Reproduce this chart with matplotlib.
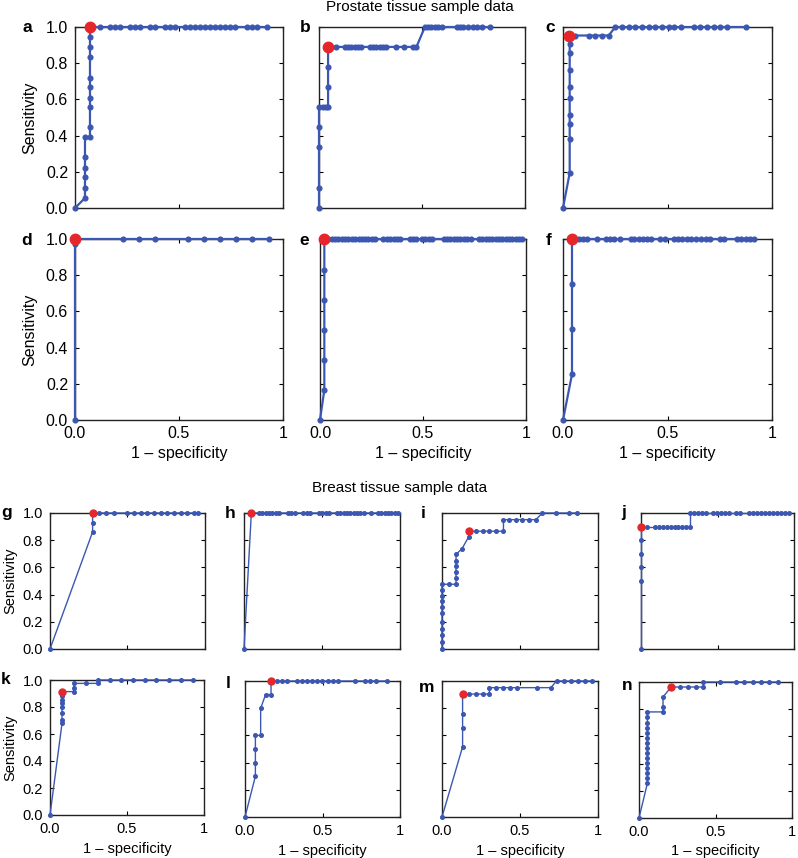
import matplotlib
matplotlib.use("Agg")
import matplotlib.pyplot as plt

plt.rcParams["font.family"] = ["Liberation Sans", "DejaVu Sans"]

BLUE = "#3b57b2"
RED = "#e5262b"

# ROC curves: (1 - specificity, sensitivity)
fpr_a = [0, 0.048, 0.048, 0.048, 0.048, 0.048, 0.048, 0.072, 0.072, 0.072, 0.072, 0.072, 0.072, 0.072,
         0.072, 0.072, 0.072, 0.12, 0.168, 0.192, 0.216, 0.264, 0.288, 0.312, 0.361, 0.385, 0.433, 0.457,
         0.481, 0.529, 0.553, 0.577, 0.601, 0.625, 0.649, 0.673, 0.697, 0.721, 0.745, 0.769, 0.825, 0.849,
         0.873, 0.921]
tpr_a = [0, 0.055, 0.11, 0.17, 0.22, 0.28, 0.39, 0.39, 0.445, 0.557, 0.61, 0.667, 0.72, 0.836,
         0.89, 0.947, 1.0] + [1.0] * 27
best_a = (0.07, 1.0)

fpr_b = [0, 0, 0, 0, 0, 0.02, 0.032, 0.044, 0.044, 0.044, 0.044, 0.084, 0.125, 0.141, 0.157, 0.173,
         0.19, 0.206, 0.246, 0.263, 0.279, 0.295, 0.311, 0.327, 0.373, 0.412, 0.454, 0.473, 0.514, 0.53,
         0.546, 0.562, 0.579, 0.595, 0.668, 0.684, 0.7, 0.724, 0.749, 0.765, 0.789, 0.83]
tpr_b = [0, 0.11, 0.336, 0.447, 0.557, 0.557, 0.557, 0.557, 0.667, 0.78, 0.89] + [0.89] * 17 + [1.0] * 14
best_b = (0.044, 0.89)

fpr_c = [0, 0.032, 0.032, 0.032, 0.032, 0.032, 0.032, 0.032, 0.032, 0.032, 0.032, 0.059, 0.123, 0.155,
         0.187, 0.219, 0.25, 0.282, 0.314, 0.346, 0.378, 0.41, 0.442, 0.474, 0.506, 0.533, 0.565, 0.625,
         0.657, 0.689, 0.721, 0.753, 0.785, 0.877]
tpr_c = [0, 0.193, 0.38, 0.466, 0.515, 0.61, 0.666, 0.76, 0.857, 0.904, 0.953, 0.953, 0.953, 0.953,
         0.953, 0.953] + [1.0] * 18
best_c = (0.03, 0.953)

fpr_d = [0, 0, 0, 0.232, 0.306, 0.386, 0.543, 0.618, 0.695, 0.773, 0.853, 0.932]
tpr_d = [0, 0.975, 1.0, 1.0, 1.0, 1.0, 1.0, 1.0, 1.0, 1.0, 1.0, 1.0]
best_d = (0.0, 1.0)

fpr_e = [0, 0.021, 0.021, 0.021, 0.021, 0.021, 0.021, 0.041, 0.057, 0.073, 0.089, 0.106, 0.122, 0.138,
         0.154, 0.17, 0.187, 0.203, 0.219, 0.235, 0.252, 0.268, 0.308, 0.325, 0.341, 0.357, 0.373, 0.39,
         0.435, 0.451, 0.468, 0.495, 0.511, 0.528, 0.544, 0.601, 0.617, 0.633, 0.649, 0.666, 0.682, 0.698,
         0.714, 0.731, 0.771, 0.787, 0.804, 0.82, 0.836, 0.852, 0.869, 0.885, 0.901, 0.917, 0.933, 0.95,
         0.966, 0.982]
tpr_e = [0, 0.166, 0.332, 0.498, 0.664, 0.83] + [1.0] * 52
best_e = (0.021, 1.0)

fpr_f = [0, 0.043, 0.043, 0.043, 0.043, 0.075, 0.096, 0.115, 0.163, 0.208, 0.227, 0.246, 0.275, 0.323,
         0.342, 0.363, 0.382, 0.403, 0.422, 0.466, 0.486, 0.53, 0.55, 0.57, 0.591, 0.613, 0.634, 0.658,
         0.682, 0.703, 0.751, 0.77, 0.834, 0.853, 0.874, 0.895, 0.914]
tpr_f = [0, 0.252, 0.505, 0.753] + [1.0] * 33
best_f = (0.043, 1.0)

fpr_g = [0, 0.275, 0.275, 0.275, 0.318, 0.361, 0.413, 0.499, 0.542, 0.585, 0.628, 0.671, 0.714, 0.757,
         0.8, 0.843, 0.886, 0.929, 0.957]
tpr_g = [0, 0.861, 0.93] + [1.0] * 16
best_g = (0.275, 1.0)

fpr_h = [0, 0.047, 0.095, 0.116, 0.138, 0.159, 0.181, 0.202, 0.224, 0.282, 0.303, 0.325, 0.381, 0.402,
         0.424, 0.482, 0.503, 0.525, 0.546, 0.596, 0.617, 0.639, 0.66, 0.682, 0.703, 0.725, 0.746, 0.768,
         0.815, 0.858, 0.88, 0.901, 0.923, 0.944, 0.966, 0.987]
tpr_h = [0] + [1.0] * 35
best_h = (0.047, 1.0)

fpr_i = [0, 0, 0, 0, 0, 0, 0, 0, 0, 0, 0, 0.043, 0.09, 0.09, 0.09, 0.09, 0.09, 0.09, 0.128, 0.172,
         0.172, 0.217, 0.26, 0.303, 0.345, 0.394, 0.394, 0.43, 0.473, 0.516, 0.558, 0.601, 0.644, 0.729,
         0.814, 0.864]
tpr_i = [0, 0.05, 0.1, 0.15, 0.2, 0.266, 0.31, 0.354, 0.388, 0.432, 0.476, 0.476, 0.476, 0.52, 0.566,
         0.607, 0.65, 0.695, 0.737, 0.827, 0.866, 0.866, 0.866, 0.866, 0.866, 0.866, 0.951, 0.951, 0.951,
         0.951, 0.951, 0.951, 1.0, 1.0, 1.0, 1.0]
best_i = (0.172, 0.866)

fpr_j = [0, 0, 0, 0, 0, 0, 0.041, 0.09, 0.116, 0.142, 0.168, 0.194, 0.219, 0.245, 0.271, 0.297, 0.323,
         0.323, 0.349, 0.374, 0.4, 0.426, 0.471, 0.497, 0.523, 0.548, 0.574, 0.62, 0.65, 0.708, 0.733,
         0.759, 0.785, 0.811, 0.837, 0.862, 0.888, 0.914, 0.94, 0.966]
tpr_j = [0, 0.5, 0.6, 0.7, 0.8, 0.898] + [0.898] * 11 + [1.0] * 23
best_j = (0.0, 0.898)

fpr_k = [0, 0.078, 0.078, 0.078, 0.078, 0.078, 0.078, 0.078, 0.078, 0.155, 0.155, 0.155, 0.233, 0.313,
         0.313, 0.389, 0.464, 0.54, 0.616, 0.691, 0.771, 0.849, 0.929]
tpr_k = [0, 0.679, 0.704, 0.758, 0.802, 0.827, 0.852, 0.881, 0.914, 0.914, 0.943, 0.975, 0.975, 0.975,
         1.0, 1.0, 1.0, 1.0, 1.0, 1.0, 1.0, 1.0, 1.0]
best_k = (0.078, 0.914)

fpr_l = [0, 0.067, 0.067, 0.067, 0.067, 0.101, 0.101, 0.133, 0.168, 0.168, 0.204, 0.237, 0.269, 0.333,
         0.366, 0.398, 0.43, 0.462, 0.495, 0.538, 0.57, 0.602, 0.71, 0.774, 0.806, 0.845, 0.914]
tpr_l = [0, 0.3, 0.4, 0.5, 0.6, 0.6, 0.8, 0.9, 0.9, 1.0] + [1.0] * 17
best_l = (0.168, 1.0)

fpr_m = [0, 0.132, 0.132, 0.132, 0.132, 0.174, 0.217, 0.26, 0.304, 0.304, 0.347, 0.394, 0.436, 0.479,
         0.611, 0.698, 0.734, 0.781, 0.83, 0.872, 0.919, 0.962]
tpr_m = [0, 0.516, 0.658, 0.757, 0.904, 0.904, 0.904, 0.904, 0.904, 0.951, 0.951, 0.951, 0.951, 0.951,
         0.951, 0.951, 1.0, 1.0, 1.0, 1.0, 1.0, 1.0]
best_m = (0.132, 0.904)

fpr_n = [0, 0.055, 0.055, 0.055, 0.055, 0.055, 0.055, 0.055, 0.055, 0.055, 0.055, 0.055, 0.055, 0.055,
         0.055, 0.055, 0.157, 0.157, 0.157, 0.21, 0.266, 0.319, 0.37, 0.421, 0.421, 0.532, 0.636, 0.689,
         0.743, 0.796, 0.849, 0.909]
tpr_n = [0, 0.256, 0.293, 0.329, 0.37, 0.407, 0.444, 0.48, 0.517, 0.554, 0.59, 0.627, 0.663, 0.7,
         0.74, 0.78, 0.78, 0.817, 0.89, 0.963, 0.963, 0.963, 0.963, 0.963, 1.0, 1.0, 1.0, 1.0, 1.0, 1.0,
         1.0, 1.0]
best_n = (0.21, 0.963)

W, H = 798, 858
fig = plt.figure(figsize=(W / 100, H / 100), dpi=100)


def add_panel(box, letter, letter_xy, fpr, tpr, best, big, ylab, xlab):
    x0, x1, y0, y1 = box
    ax = fig.add_axes([x0 / W, 1 - y1 / H, (x1 - x0) / W, (y1 - y0) / H])
    lw, ms, rms, fs = (1.6, 3.4, 7.5, 11.5) if big else (1.0, 2.6, 5.0, 10.5)
    ax.plot(fpr, tpr, color=BLUE, lw=lw, marker="o", ms=ms, clip_on=False, zorder=3)
    ax.plot([best[0]], [best[1]], "o", color=RED, ms=rms, clip_on=False, zorder=4)
    ax.set_xlim(0, 1)
    ax.set_ylim(0, 1)
    ax.set_xticks([0, 0.5, 1])
    ax.set_yticks([0, 0.2, 0.4, 0.6, 0.8, 1.0])
    ax.tick_params(direction="in", top=True, right=True, length=3, width=0.8, labelsize=fs)
    ax.tick_params(axis="y", pad=5)
    ax.tick_params(axis="x", pad=4 if big else 5)
    for s in ax.spines.values():
        s.set_linewidth(1.0)
        s.set_color("#222222")
    if ylab:
        ax.set_yticklabels(["0.0", "0.2", "0.4", "0.6", "0.8", "1.0"])
        ax.set_ylabel("Sensitivity", fontsize=fs, labelpad=6 if big else 4)
    else:
        ax.set_yticklabels([])
    if xlab:
        ax.set_xticklabels(["0.0", "0.5", "1"])
        ax.set_xlabel("1 \u2013 specificity", fontsize=fs, labelpad=4)
    else:
        ax.set_xticklabels([])
    fig.text(letter_xy[0] / W, 1 - letter_xy[1] / H, letter, fontsize=12.5, fontweight="bold",
             ha="center", va="center")
    return ax


# prostate
add_panel((75, 283, 27, 208), "a", (27, 27), fpr_a, tpr_a, best_a, True, True, False)
add_panel((319, 525, 27, 208), "b", (305, 27), fpr_b, tpr_b, best_b, True, False, False)
add_panel((563, 772, 27, 208), "c", (550, 27), fpr_c, tpr_c, best_c, True, False, False)
add_panel((75, 283, 239, 420), "d", (27, 240), fpr_d, tpr_d, best_d, True, True, True)
add_panel((320, 526, 239, 420), "e", (304, 240), fpr_e, tpr_e, best_e, True, False, True)
add_panel((563, 772, 239, 420), "f", (549, 240), fpr_f, tpr_f, best_f, True, False, True)

# breast
add_panel((50, 205, 513, 649), "g", (7, 513), fpr_g, tpr_g, best_g, False, True, False)
add_panel((244, 400, 513, 649), "h", (230, 513), fpr_h, tpr_h, best_h, False, False, False)
add_panel((442, 598, 513, 649), "i", (423, 513), fpr_i, tpr_i, best_i, False, False, False)
add_panel((641, 794, 513, 649), "j", (624, 513), fpr_j, tpr_j, best_j, False, False, False)
add_panel((50, 204, 680, 815), "k", (6, 679), fpr_k, tpr_k, best_k, False, True, True)
add_panel((245, 400, 681, 817), "l", (228, 683), fpr_l, tpr_l, best_l, False, False, True)
add_panel((442, 598, 681, 817), "m", (427, 687), fpr_m, tpr_m, best_m, False, False, True)
add_panel((639, 792, 682, 818), "n", (627, 686), fpr_n, tpr_n, best_n, False, False, True)

fig.text(420 / W, 1 - 7 / H, "Prostate tissue sample data", fontsize=11, ha="center", va="center")
fig.text(400 / W, 1 - 488 / H, "Breast tissue sample data", fontsize=11, ha="center", va="center")

fig.savefig("out.png", dpi=100)
